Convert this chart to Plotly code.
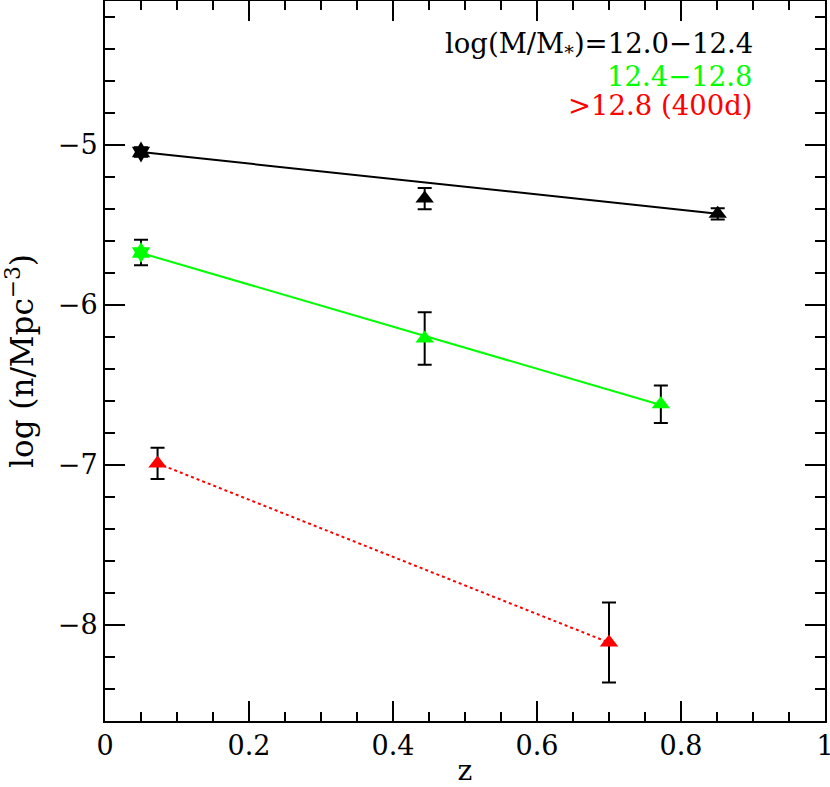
import plotly.graph_objects as go

# data
z_black = [0.05, 0.444, 0.851]
n_black = [-5.044, -5.335, -5.43]
e_black = [0.03, 0.067, 0.035]
fit_black_z = [0.05, 0.851]
fit_black_n = [-5.044, -5.43]

z_green = [0.05, 0.444, 0.772]
n_green = [-5.672, -6.21, -6.62]
e_green = [0.08, 0.164, 0.117]
fit_green_z = [0.05, 0.772]
fit_green_n = [-5.675, -6.625]

z_red = [0.073, 0.700]
n_red = [-6.99, -8.11]
e_red = [0.098, 0.25]
fit_red_z = [0.073, 0.700]
fit_red_n = [-6.99, -8.11]

x_ticks = [0, 0.2, 0.4, 0.6, 0.8, 1]
x_ticklabels = ["0", "0.2", "0.4", "0.6", "0.8", "1"]
y_ticks = [-8, -7, -6, -5]
y_ticklabels = ["\u22128", "\u22127", "\u22126", "\u22125"]

labels = ["log(M/M<sub>*</sub>)=12.0\u221212.4", "12.4\u221212.8", ">12.8 (400d)"]
label_colors = ["black", "#00ff00", "red"]
label_y = [-4.375, -4.569, -4.75]

FONT = "DejaVu Serif"
fig = go.Figure()

def add_series(z, n, e, fz, fn, color, dash):
    fig.add_trace(go.Scatter(x=fz, y=fn, mode="lines",
                             line=dict(color=color, width=2, dash=dash),
                             showlegend=False, hoverinfo="skip"))
    symbols = ["hexagram" if i == 0 and color != "red" else "triangle-up" for i in range(len(z))]
    fig.add_trace(go.Scatter(x=z, y=n, mode="markers",
                             marker=dict(color=color, size=16, symbol=symbols,
                                         line=dict(width=0)),
                             error_y=dict(type="data", array=e, visible=True,
                                          color="black", thickness=2, width=7),
                             showlegend=False))

add_series(z_black, n_black, e_black, fit_black_z, fit_black_n, "black", "solid")
add_series(z_green, n_green, e_green, fit_green_z, fit_green_n, "#00ff00", "solid")
add_series(z_red, n_red, e_red, fit_red_z, fit_red_n, "red", "dot")

for t, c, yy in zip(labels, label_colors, label_y):
    fig.add_annotation(x=0.903, y=yy, xref="x", yref="y",
                       text=t, showarrow=False, xanchor="right", yanchor="middle",
                       font=dict(family=FONT, size=27.5, color=c))

axis_common = dict(showline=True, linecolor="black", linewidth=2, mirror="ticks",
                   ticks="inside", tickcolor="black", tickwidth=2, ticklen=20,
                   showgrid=False, zeroline=False, automargin=False,
                   ticklabeloverflow="allow",
                   tickfont=dict(family=FONT, size=27, color="black"))

fig.update_xaxes(range=[0, 1], tickmode="array", tickvals=x_ticks, ticktext=x_ticklabels,
                 minor=dict(ticks="inside", dtick=0.05, tick0=0, ticklen=9, tickwidth=2,
                            tickcolor="black", showgrid=False),
                 title=dict(text="z", font=dict(family=FONT, size=28, color="black"),
                            standoff=2),
                 **axis_common)
fig.update_yaxes(range=[-8.6, -4.1], tickmode="array", tickvals=y_ticks, ticktext=y_ticklabels,
                 minor=dict(ticks="inside", dtick=0.2, tick0=-8, ticklen=10, tickwidth=2,
                            tickcolor="black", showgrid=False),
                 title=dict(text="log (n/Mpc<sup>\u22123</sup>)",
                            font=dict(family=FONT, size=31, color="black"), standoff=20),
                 **axis_common)

fig.update_layout(width=830, height=787, margin=dict(l=105, r=5, t=1, b=66),
                  plot_bgcolor="white", paper_bgcolor="white",
                  font=dict(family=FONT))

fig.write_html("out.html", config={"displayModeBar": False},
               post_script="document.body.style.margin='0';document.body.style.padding='0';")
